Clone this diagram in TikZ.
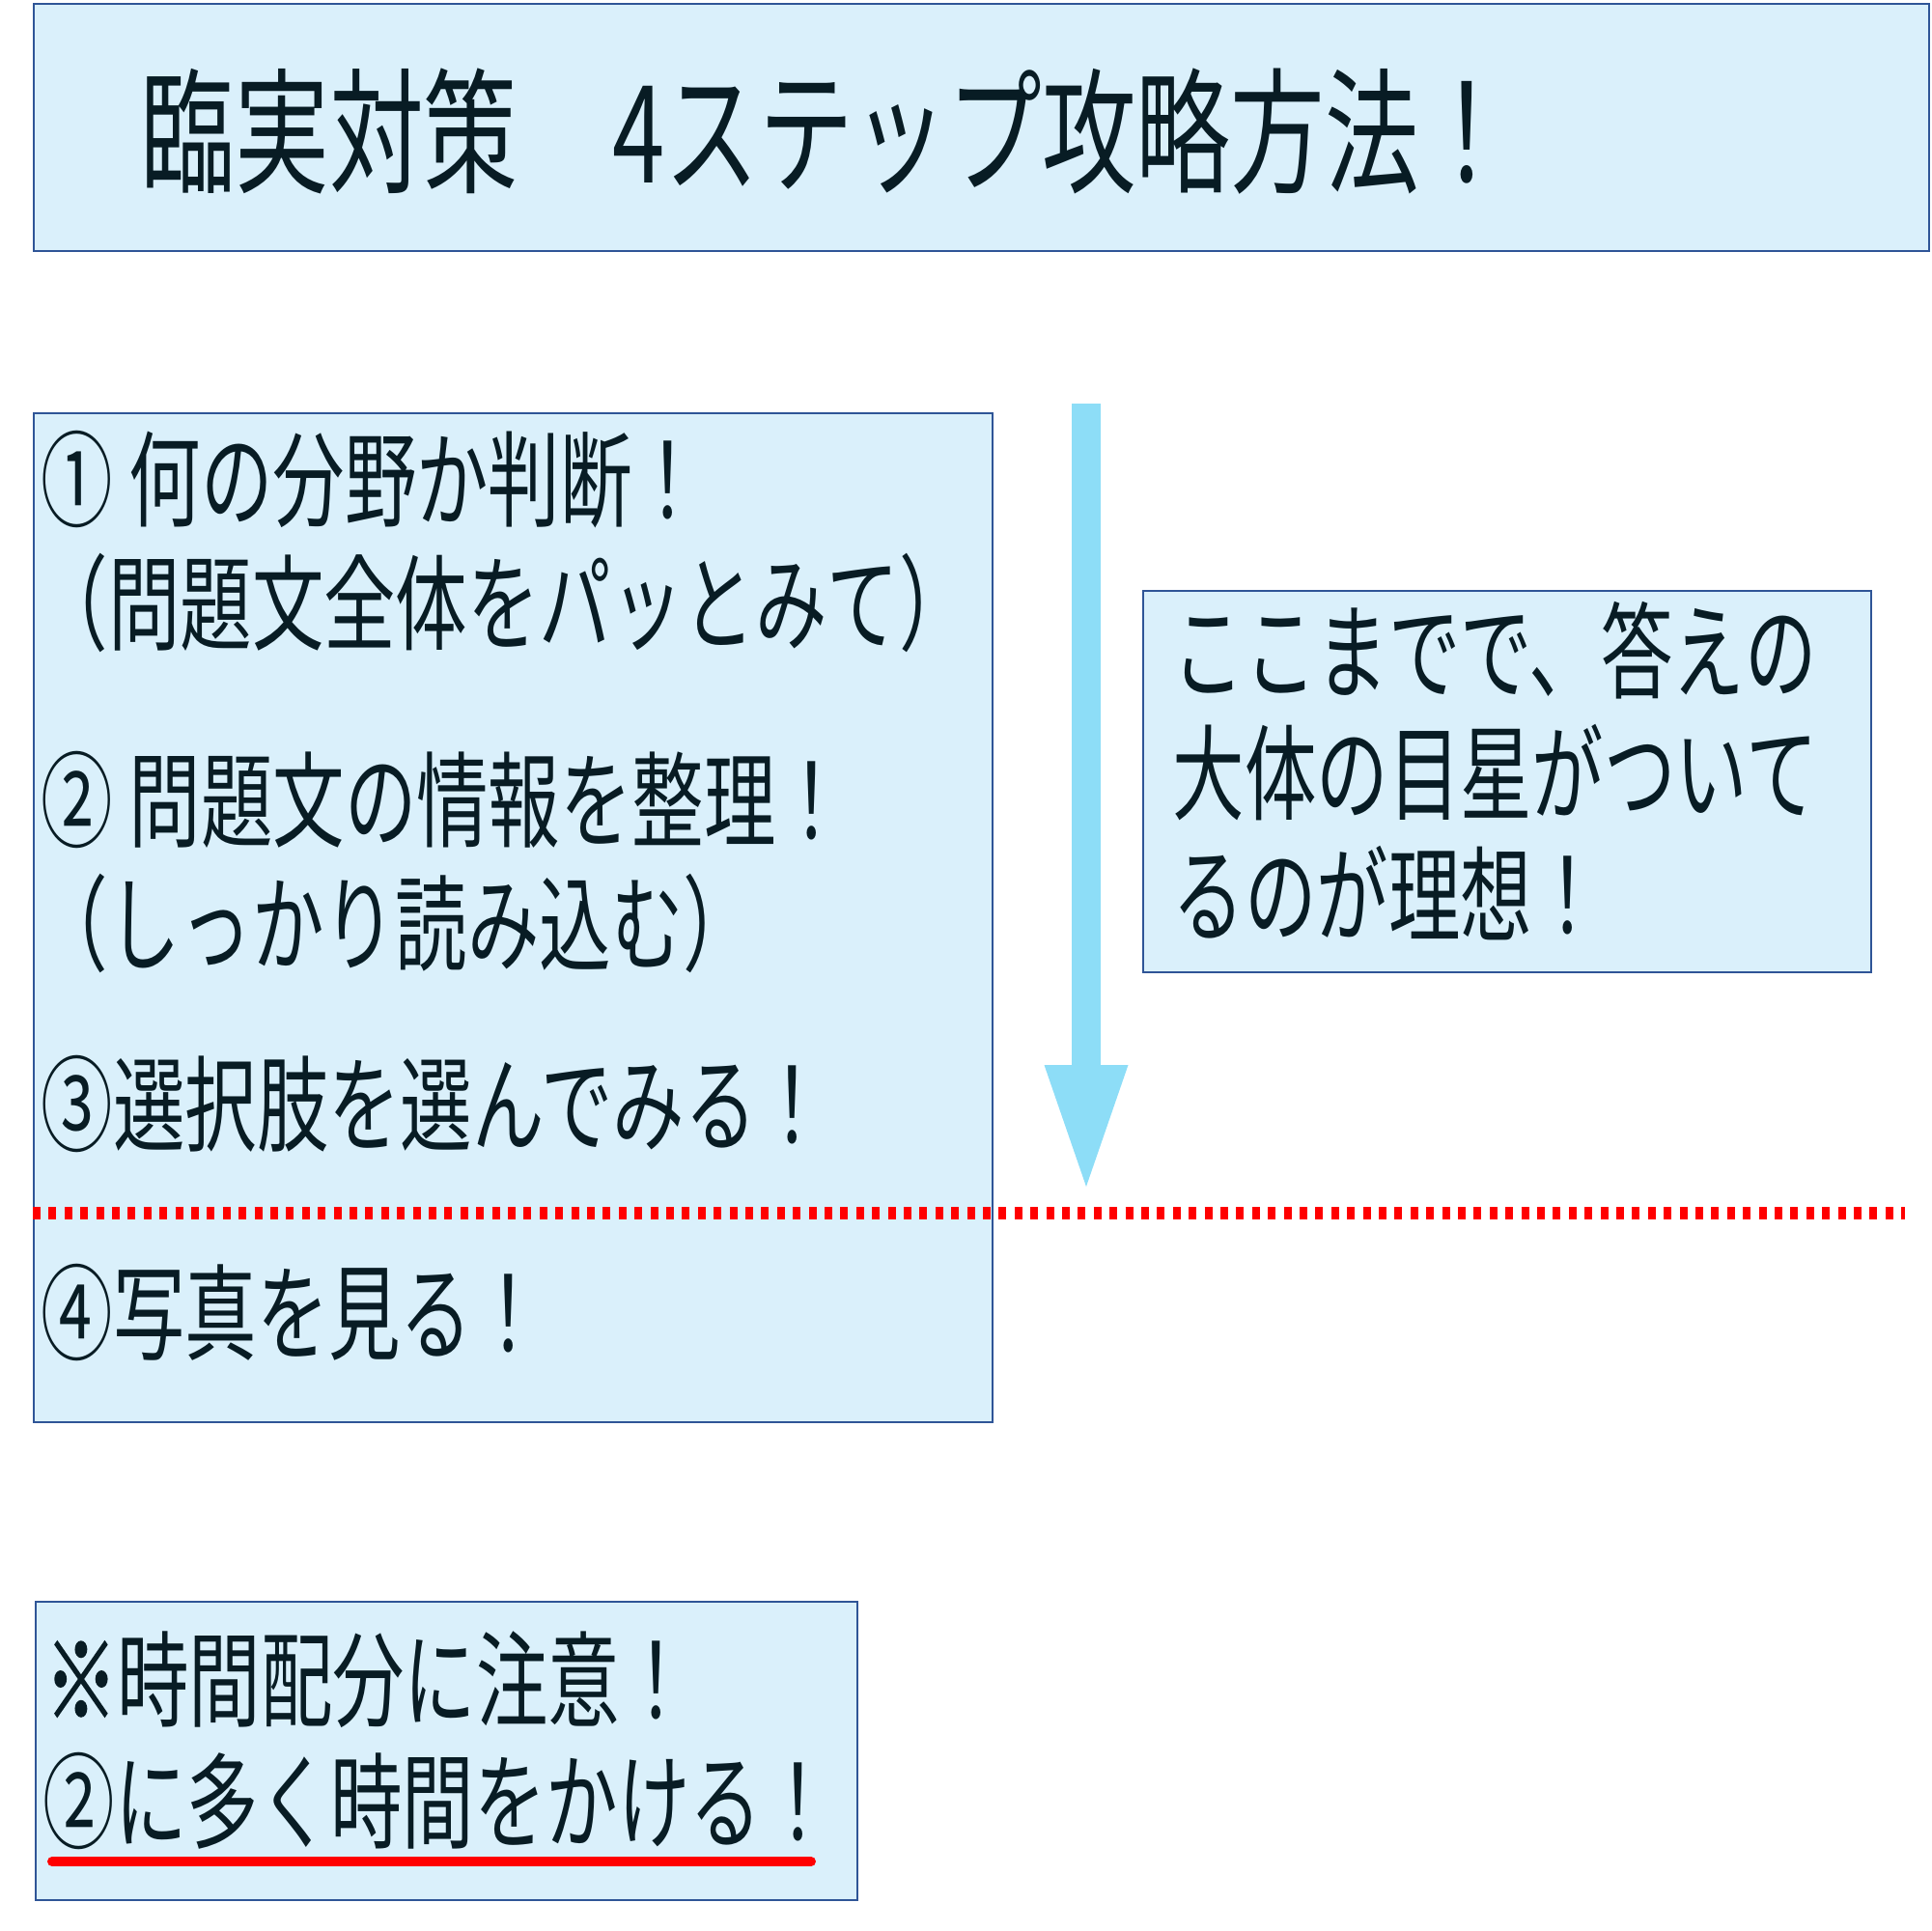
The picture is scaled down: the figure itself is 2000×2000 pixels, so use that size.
\documentclass[tikz,border=0pt]{standalone}
\usepackage{fontspec}
\usetikzlibrary{arrows.meta}

\newfontfamily\jpfont[FakeStretch=0.69]{Noto Sans CJK JP}
\newfontfamily\jpmarkfont[FakeStretch=0.69, FakeBold=1.6]{Noto Sans CJK JP}
\newfontfamily\jptitlefont[FakeStretch=0.695]{Noto Sans CJK JP}

\definecolor{panelfill}{RGB}{218,240,251}
\definecolor{panelline}{RGB}{47,85,151}
\definecolor{ink}{RGB}{8,28,36}
\definecolor{flowblue}{RGB}{141,221,247}

\tikzset{
  panel/.style={draw=panelline, fill=panelfill, line width=0.6pt, inner sep=0pt, anchor=north west},
  steptext/.style={anchor=base west, inner sep=0pt, text=ink, font=\jpfont\fontsize{30.7pt}{36pt}\selectfont},
  titletext/.style={anchor=base west, inner sep=0pt, text=ink, font=\jptitlefont\fontsize{40pt}{48pt}\selectfont},
  flow/.style={draw=flowblue, line width=3mm, -{Triangle[length=12.6mm, width=8.7mm, line width=0pt]}},
  cutline/.style={draw=red, line width=1.3mm, dash pattern=on 0.8mm off 0.84mm},
  underline/.style={draw=red, line width=1mm, line cap=round}
}

\begin{document}
\begin{tikzpicture}[x=0.1mm, y=-0.1mm]
  \useasboundingbox (0,0) rectangle (2000,2000);

  % panels
  \node[panel, minimum width=196.3mm, minimum height=25.6mm] (titlepanel) at (34,3) {};
  \node[panel, minimum width=99.3mm, minimum height=104.5mm] (steppanel) at (34,427) {};
  \node[panel, minimum width=75.4mm, minimum height=39.5mm] (goalpanel) at (1183,611) {};
  \node[panel, minimum width=85.1mm, minimum height=30.9mm] (notepanel) at (36,1658) {};

  % title
  \node[titletext] (title) at (145,189) {臨実対策　4ステップ攻略方法！};

  % steps
  \node[steptext] (step1) at (42,537) {① 何の分野か判断！};
  \node[steptext] (step1b) at (37,665) {（問題文全体をパッとみて）};
  \node[steptext] (step2) at (42,869) {② 問題文の情報を整理！};
  \node[steptext] (step2b) at (37,997) {（しっかり読み込む）};
  \node[steptext] (step3) at (42,1184) {③選択肢を選んでみる！};
  \node[steptext] (step4) at (42,1400) {④写真を見る！};

  % dotted border between step 3 and 4
  \coordinate (cutL) at (34,1256);
  \coordinate (cutR) at (1973,1256);
  \draw[cutline] (cutL) -- (cutR);

  % arrow
  \coordinate (flowtop) at (1125,418);
  \coordinate (flowtip) at (1125,1229);
  \draw[flow] (flowtop) -- (flowtip);

  % goal
  \node[steptext] (goal1) at (1214,715) {ここまでで、答えの};
  \node[steptext] (goal2) at (1214,841) {大体の目星がついて};
  \node[steptext] (goal3) at (1214,967) {るのが理想！};

  % note
  \node[steptext] (note1) at (46,1780) {{\jpmarkfont ※}時間配分に注意！};
  \node[steptext] (note2) at (44,1906) {②に多く時間をかける！};
  \coordinate (markL) at (54,1928);
  \coordinate (markR) at (840,1928);
  \draw[underline] (markL) -- (markR);
\end{tikzpicture}
\end{document}
